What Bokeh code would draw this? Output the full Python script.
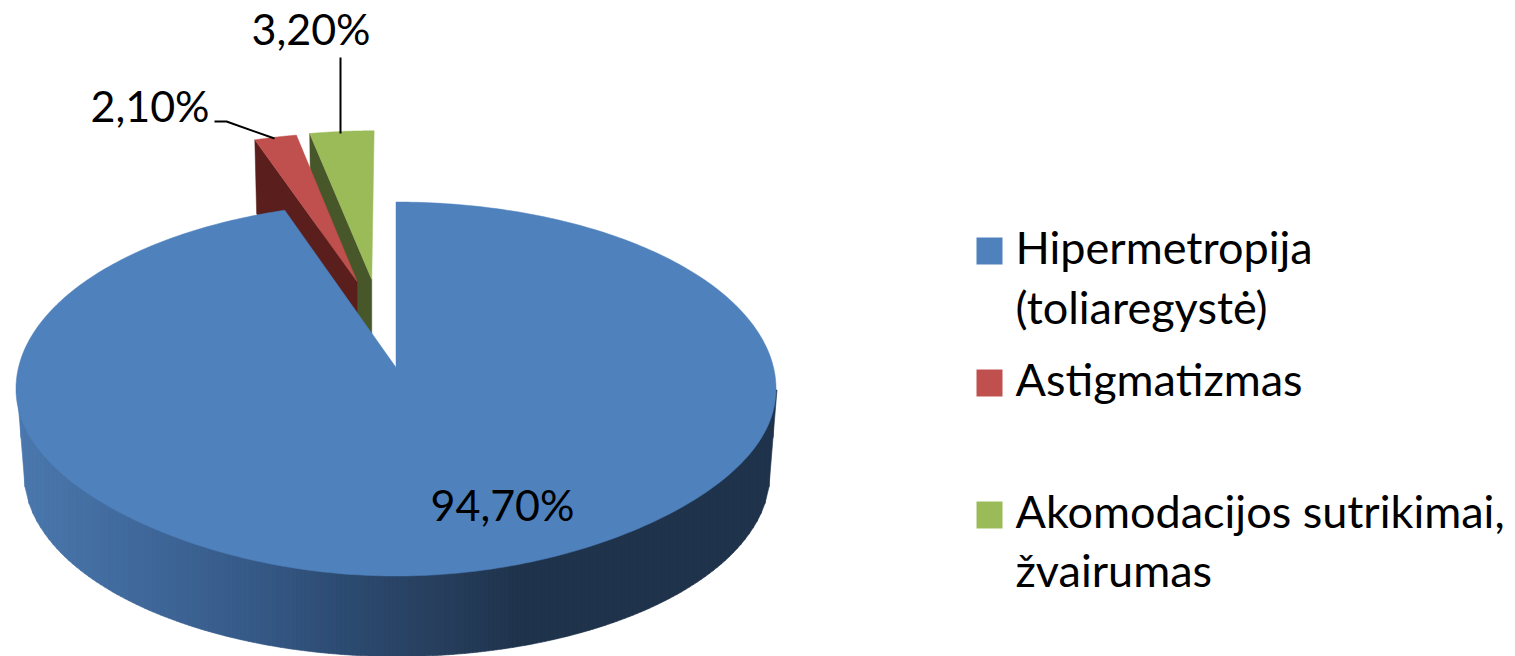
import numpy as np
from bokeh.plotting import figure
from bokeh.models import Range1d
from bokeh.core.properties import value
from bokeh.embed import file_html
from bokeh.resources import INLINE

# ---- data ----
categories = ["Hipermetropija (toliaregystė)", "Astigmatizmas", "Akomodacijos sutrikimai, žvairumas"]
shares = [94.7, 2.1, 3.2]
share_labels = ["94,70%", "2,10%", "3,20%"]
legend_lines = [["Hipermetropija", "(toliaregystė)"], ["Astigmatizmas"], ["Akomodacijos sutrikimai,", "žvairumas"]]
top_colors = ["#4f81bd", "#c0504d", "#9bbb59"]
side_colors = ["#1f334c", "#5a1f1c", "#47572a"]

# ---- layout (picture pixels) ----
W, H = 1515, 656
FONT = "Lato"
LABEL_SIZE = "43px"
LEGEND_SIZE = "45px"
TEXT_SHIFT_LABEL = -17
TEXT_SHIFT_LEGEND = -17.5
AX, AY = 395.5, 367.0      # apex of the un-exploded slice
PB, PA, PK = 377.5, 184.5, 0.115   # perspective of the pie plane
EXPLODE = [(0.0, 0.0), (-0.109, 0.493), (-0.068, 0.505)]  # slice offset in the pie plane
SLICE_DEPTH = 74
SHRINK = 0.982
SAG = 5.0                  # the front of the pie's top face is a little flatter than an ellipse


def project(X, Y):
    d = 1 + PK * np.asarray(Y)
    return AX + PB * np.asarray(X) / d, AY - PA * np.asarray(Y) / d


def wedge(t0, t1, off, n=120):
    th = np.linspace(t0, t1, n)
    X = np.concatenate([[off[0]], off[0] + np.sin(th)])
    Y = np.concatenate([[off[1]], off[1] + np.cos(th)])
    return project(X, Y)


p = figure(width=W, height=H, output_backend="svg", toolbar_location=None,
           x_range=Range1d(0, W), y_range=Range1d(H, 0),
           min_border=0, outline_line_color=None, background_fill_color="white", border_fill_color="white")
p.axis.visible = False
p.grid.visible = False

fr = np.array(shares) / sum(shares)
cum = np.concatenate([[0], np.cumsum(fr)]) * 2 * np.pi
spans = [(cum[i], cum[i + 1]) for i in range(3)]

# exploded slices, green behind red: radial side face, then the top face
for i in (2, 1):
    t0, t1 = spans[i]
    off = EXPLODE[i]
    xa, ya = project(off[0], off[1])
    xc, yc = project(off[0] + np.sin(t0), off[1] + np.cos(t0))
    side_x = [xc, xa, xa, xc + (xa - xc) * (1 - SHRINK)]
    side_y = [yc, ya, ya + SLICE_DEPTH, yc + SLICE_DEPTH]
    p.patch([float(v) for v in side_x], [float(v) for v in side_y], fill_color=side_colors[i], line_color=side_colors[i], line_width=0.5)
    x, y = wedge(t0, t1, off)
    p.patch(x, y, fill_color=top_colors[i], line_color=top_colors[i], line_width=0.5)

# blue rim: vertical strips with a horizontal shading
TCX, TCY, TRX, TRY = 396.5, 389.5, 380.0, 187.0
BCX, BCY, BRX, BRY = 396.5, 473.0, 373.0, 183.0
ramp_x = [17, 150, 250, 350, 430, 520, 776]
ramp_c = [(74, 120, 174), (63, 103, 153), (54, 90, 136), (44, 74, 112), (40, 64, 95), (31, 51, 76), (31, 51, 76)]
edges = np.arange(TCX - TRX, TCX + TRX + 0.01, 4.0)
xs, ys, cs = [], [], []


def low(xv):
    u = np.clip((xv - BCX) / BRX, -1, 1)
    if abs(xv - BCX) <= BRX:
        return BCY + BRY * np.sqrt(1 - u * u)
    frac = (TRX - abs(xv - TCX)) / (TRX - BRX)
    return TCY + (BCY - TCY) * frac


for a, b in zip(edges[:-1], edges[1:]):
    m = (a + b) / 2
    c = [int(round(np.interp(m, ramp_x, [k[j] for k in ramp_c]))) for j in range(3)]
    col = "#%02x%02x%02x" % tuple(c)
    xs.append([a, b, b, a])
    ys.append([TCY, TCY, low(b), low(a)])
    cs.append(col)
p.patches(xs, ys, fill_color=cs, line_color=cs, line_width=0.6)

# blue top face
th = np.linspace(spans[0][0], spans[0][1], 360)
x, y = wedge(spans[0][0], spans[0][1], EXPLODE[0], n=360)
sag = np.where(np.cos(th) < 0, SAG * 4 * np.sin(th) ** 2 * np.cos(th) ** 2, 0.0)
y = y.copy()
y[1:] = y[1:] - sag
p.patch(x, y, fill_color=top_colors[0], line_color=top_colors[0], line_width=0.5)

# leader lines
p.line([340, 340], [57, 133], line_color="black", line_width=2)
p.line([214, 226, 274], [121, 121, 138], line_color="black", line_width=2)

# data labels
lab_x = [430, 90, 251]
lab_y = [521, 122, 45]
p.text(lab_x, lab_y, text=share_labels, text_font=value(FONT), text_font_size=LABEL_SIZE, y_offset=TEXT_SHIFT_LABEL,
       text_color="black", text_baseline="alphabetic", text_align="left")

# legend
sq_top = [237, 369, 501]
leg_base = [[264, 324], [396], [528, 587]]
for i in range(3):
    p.quad(left=976, right=1002, top=sq_top[i], bottom=sq_top[i] + 27, fill_color=top_colors[i], line_color=None)
    p.text([1015] * len(legend_lines[i]), leg_base[i], text=legend_lines[i], text_font=value(FONT), y_offset=TEXT_SHIFT_LEGEND,
           text_font_size=LEGEND_SIZE, text_color="black", text_baseline="alphabetic", text_align="left")

open("out.html", "w").write(file_html(p, INLINE))
